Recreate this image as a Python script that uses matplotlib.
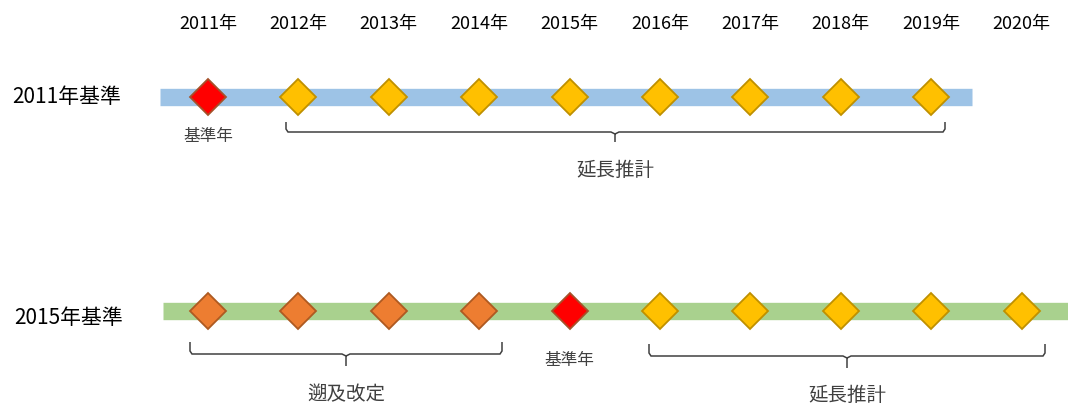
import matplotlib.pyplot as plt
from matplotlib.path import Path
from matplotlib.patches import PathPatch

plt.rcParams['font.family'] = ['Noto Sans CJK JP', 'DejaVu Sans']

years = [2011, 2012, 2013, 2014, 2015, 2016, 2017, 2018, 2019, 2020]
year_labels = [f'{y}年' for y in years]

# 2011-based series: base year + extension
top_years = [2011, 2012, 2013, 2014, 2015, 2016, 2017, 2018, 2019]
top_kinds = ['base', 'ext', 'ext', 'ext', 'ext', 'ext', 'ext', 'ext', 'ext']
# 2015-based series: revision + base year + extension
bot_years = [2011, 2012, 2013, 2014, 2015, 2016, 2017, 2018, 2019, 2020]
bot_kinds = ['rev', 'rev', 'rev', 'rev', 'base', 'ext', 'ext', 'ext', 'ext', 'ext']

colors = {'base': ('#FF0000', '#A5512A'),
          'ext': ('#FFC000', '#BF9000'),
          'rev': ('#ED7D31', '#AE5A21')}

fig = plt.figure(figsize=(10.68, 4.05), dpi=100)
ax = fig.add_axes([0, 0, 1, 1])
px = 90.4  # pixels per year
x0 = 2011 - 208 / px
ax.set_xlim(x0, x0 + 1068 / px)
ax.set_ylim(405, 0)
ax.axis('off')


def X(p):
    return x0 + p / px


# year header
for y, lab in zip(years, year_labels):
    ax.text(y, 24, lab, ha='center', va='center', fontsize=13, color='#000000')

# bars
ax.plot([X(160), X(972)], [97, 97], color='#9DC3E6', lw=12.5, solid_capstyle='butt', zorder=1)
ax.plot([X(163), X(1068)], [311, 311], color='#A9D18E', lw=12.5, solid_capstyle='butt', zorder=1)

for y, k in zip(top_years, top_kinds):
    fc, ec = colors[k]
    ax.plot(y, 97, marker='D', ms=18.5, mfc=fc, mec=ec, mew=1.3, zorder=3)
for y, k in zip(bot_years, bot_kinds):
    fc, ec = colors[k]
    ax.plot(y, 311, marker='D', ms=18.5, mfc=fc, mec=ec, mew=1.3, zorder=3)

ax.text(X(12), 97, '2011年基準', ha='left', va='center', fontsize=15, color='#000000')
ax.text(X(14), 318, '2015年基準', ha='left', va='center', fontsize=15, color='#000000')

grey = '#404040'
ax.text(2011, 137, '基準年', ha='center', va='center', fontsize=12, color=grey)
ax.text(2015, 360, '基準年', ha='center', va='center', fontsize=12, color=grey)


def brace(left, right, mid, top, base, tip):
    c = 4 / px
    verts = [(X(left), top), (X(left), base - 3), (X(left) + c / 2, base), (X(mid) - c, base),
             (X(mid), base + 2), (X(mid), tip), (X(mid), base + 2), (X(mid) + c, base),
             (X(right) - c / 2, base), (X(right), base - 3), (X(right), top)]
    codes = [Path.MOVETO, Path.LINETO, Path.LINETO, Path.LINETO, Path.LINETO, Path.LINETO,
             Path.MOVETO, Path.LINETO, Path.LINETO, Path.LINETO, Path.LINETO]
    ax.add_patch(PathPatch(Path(verts, codes), fill=False, ec='#404040', lw=1.1))


brace(286, 945, 615, 122, 132, 142)
ax.text(X(615), 170, '延長推計', ha='center', va='center', fontsize=14, color=grey)

brace(190, 502, 346, 342, 354, 366)
ax.text(X(346), 395, '遡及改定', ha='center', va='center', fontsize=14, color=grey)

brace(649, 1045, 847, 344, 356, 368)
ax.text(X(847), 395, '延長推計', ha='center', va='center', fontsize=14, color=grey)

fig.savefig('out.png', dpi=100)
